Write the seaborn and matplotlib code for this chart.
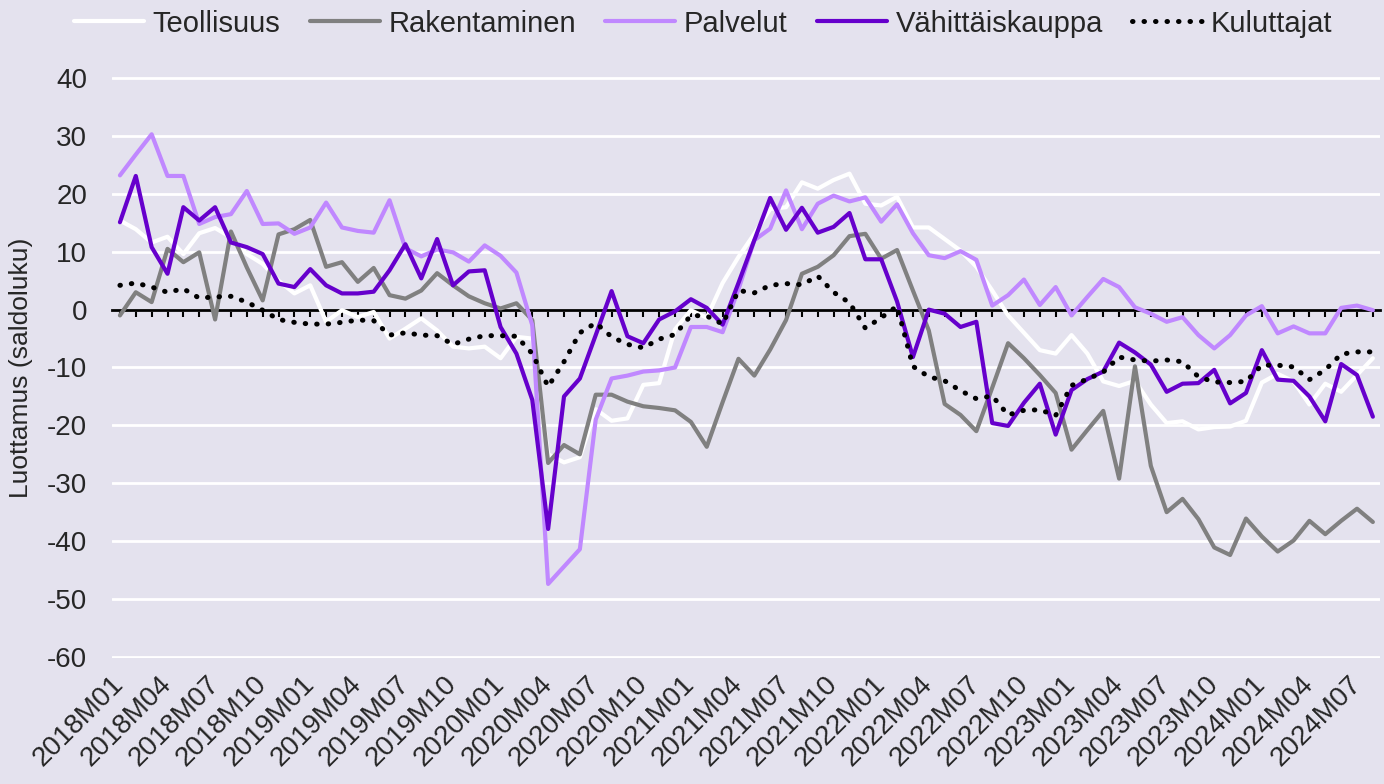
import matplotlib
matplotlib.use("Agg")
import matplotlib.pyplot as plt
import seaborn as sns
import pandas as pd
from matplotlib import font_manager

# monthly periods 2018M01 .. 2024M08
months = [f"{y}M{m:02d}" for y in range(2018, 2025) for m in range(1, 13)][:80]

teollisuus = [15.4, 13.9, 11.6, 12.6, 9.6, 13.2, 14.1, 12.5, 9.6, 7.9,
              5.0, 2.8, 4.2, -2.1, -0.1, -1.3, -0.4, -5.0, -3.3, -1.5,
              -3.6, -6.4, -6.7, -6.4, -8.4, -4.7, -5.0, -25.0, -26.4, -25.5,
              -17.2, -19.2, -18.8, -13.0, -12.7, -3.4, -0.1, -1.4, 4.6, 9.1,
              13.1, 17.4, 17.7, 22.0, 20.9, 22.4, 23.5, 18.3, 18.0, 19.5,
              14.2, 14.2, 12.2, 10.2, 7.4, 3.3, -1.0, -4.0, -7.0, -7.6,
              -4.4, -7.6, -12.4, -13.2, -12.3, -16.4, -19.6, -19.3, -20.7, -20.3,
              -20.2, -19.2, -12.6, -11.1, -12.4, -16.4, -12.8, -14.2, -11.3, -8.4]

rakentaminen = [-1.0, 3.0, 1.3, 10.5, 8.2, 9.9, -1.7, 13.5, 7.3, 1.6,
                13.0, 13.9, 15.5, 7.4, 8.2, 4.8, 7.2, 2.5, 1.9, 3.3,
                6.3, 4.2, 2.3, 1.1, 0.2, 1.1, -1.8, -26.5, -23.4, -25.0,
                -14.7, -14.7, -15.9, -16.7, -17.0, -17.4, -19.4, -23.7, -16.0, -8.5,
                -11.4, -6.9, -1.8, 6.2, 7.4, 9.4, 12.7, 13.1, 8.8, 10.3,
                3.3, -3.6, -16.3, -18.2, -21.0, -13.5, -5.8, -8.4, -11.3, -14.4,
                -24.2, -20.8, -17.5, -29.2, -9.8, -27.0, -35.0, -32.7, -36.2, -41.1,
                -42.4, -36.1, -39.2, -41.8, -39.9, -36.5, -38.8, -36.5, -34.4, -36.7]

palvelut = [23.2, 26.8, 30.3, 23.1, 23.1, 14.8, 16.0, 16.5, 20.5, 14.8,
            14.9, 13.1, 14.2, 18.5, 14.2, 13.6, 13.3, 18.9, 10.6, 9.2,
            10.4, 9.9, 8.3, 11.1, 9.3, 6.4, -2.7, -47.4, -44.4, -41.4,
            -19.0, -11.9, -11.4, -10.7, -10.5, -10.0, -3.0, -3.0, -3.9, 3.5,
            12.0, 14.0, 20.6, 13.9, 18.3, 19.7, 18.7, 19.4, 15.2, 18.2,
            13.2, 9.4, 8.9, 10.1, 8.6, 0.7, 2.5, 5.2, 0.8, 3.9,
            -1.0, 2.2, 5.3, 3.9, 0.4, -0.7, -2.1, -1.3, -4.4, -6.7,
            -4.4, -1.0, 0.6, -4.1, -2.9, -4.1, -4.1, 0.3, 0.7, -0.1]

vahittaiskauppa = [15.1, 23.1, 10.8, 6.2, 17.7, 15.4, 17.7, 11.6, 10.8, 9.6,
                   4.5, 3.9, 7.0, 4.2, 2.8, 2.8, 3.1, 6.8, 11.3, 5.4,
                   12.2, 4.2, 6.6, 6.8, -3.0, -7.6, -15.6, -37.9, -15.0, -11.9,
                   -4.4, 3.2, -4.6, -5.8, -1.7, -0.3, 1.8, 0.3, -2.6, 4.6,
                   12.0, 19.3, 13.8, 17.6, 13.3, 14.3, 16.7, 8.7, 8.7, 1.4,
                   -8.2, 0.0, -0.7, -3.0, -2.1, -19.6, -20.1, -16.1, -12.8, -21.6,
                   -13.9, -12.0, -10.7, -5.7, -7.4, -9.5, -14.2, -12.8, -12.7, -10.4,
                   -16.2, -14.4, -7.0, -12.1, -12.3, -15.0, -19.3, -9.4, -11.3, -18.5]

kuluttajat = [4.2, 4.6, 3.9, 3.0, 3.6, 2.0, 2.2, 2.3, 1.3, -0.1,
              -1.7, -2.2, -2.5, -2.5, -2.2, -1.8, -1.9, -4.4, -4.0, -4.4,
              -4.5, -6.0, -5.1, -4.5, -4.5, -4.6, -7.6, -13.3, -9.0, -4.0,
              -2.3, -4.7, -6.0, -6.6, -5.1, -4.3, -1.0, -1.1, -2.5, 3.3,
              2.9, 4.2, 4.5, 4.3, 5.8, 3.0, 1.2, -3.2, -1.4, 0.6,
              -9.8, -11.6, -12.3, -14.0, -15.4, -14.9, -18.2, -17.4, -17.3, -18.3,
              -13.1, -12.0, -10.8, -8.2, -8.7, -8.9, -8.7, -9.0, -11.6, -12.5,
              -12.6, -12.4, -9.6, -9.6, -9.9, -12.1, -10.4, -7.7, -7.3, -7.3]

df = pd.DataFrame({
    "Teollisuus": teollisuus,
    "Rakentaminen": rakentaminen,
    "Palvelut": palvelut,
    "Vähittäiskauppa": vahittaiskauppa,
    "Kuluttajat": kuluttajat,
})
df["pos"] = range(len(months))

bg = "#E4E2EE"
sns.set_theme(style="white", rc={"axes.facecolor": bg, "figure.facecolor": bg})
names = {f.name for f in font_manager.fontManager.ttflist}
font = "Liberation Sans Narrow" if "Liberation Sans Narrow" in names else "Liberation Sans"
plt.rcParams["font.family"] = [font, "DejaVu Sans"]
plt.rcParams["axes.unicode_minus"] = False

fig = plt.figure(figsize=(13.84, 7.84), dpi=100)
ax = fig.add_axes([112 / 1384, 1 - 658 / 784, (1380 - 112) / 1384, (658 - 77) / 784])

styles = [
    ("Teollisuus", "white", "-"),
    ("Rakentaminen", "#808080", "-"),
    ("Palvelut", "#C088FF", "-"),
    ("Vähittäiskauppa", "#6600CC", "-"),
    ("Kuluttajat", "black", (0, (0.1, 2.2))),
]
for name, color, ls in styles:
    if name == "Kuluttajat":
        sns.lineplot(data=df, x="pos", y=name, color=color, linestyle=ls, lw=3.6,
                     dash_capstyle="round", ax=ax, label=name)
    else:
        sns.lineplot(data=df, x="pos", y=name, color=color, linestyle=ls, lw=3.0,
                     ax=ax, label=name)

ax.get_legend().remove()
handles, labels = ax.get_legend_handles_labels()
fig.legend(handles, labels, loc="center", bbox_to_anchor=(0.508, 0.970), ncol=5,
           frameon=False, fontsize=21, handlelength=2.4, handletextpad=0.3,
           columnspacing=1.0)

ax.set_xlim(-0.5, 79.45)
ax.set_ylim(-60.2, 40.2)
ax.set_yticks(range(-60, 41, 10))
ax.yaxis.grid(True, color="white", lw=2)
ax.xaxis.grid(False)
ax.set_axisbelow(True)
for s in ["top", "right", "left"]:
    ax.spines[s].set_visible(False)
ax.spines["bottom"].set_position(("data", 0))
ax.spines["bottom"].set_color("black")
ax.spines["bottom"].set_linewidth(2)
ax.spines["bottom"].set_zorder(1.5)

ax.set_xticks(df["pos"])
ax.tick_params(axis="x", which="both", direction="out", length=5, width=1.5,
               color="black", bottom=True, labelbottom=False)
ax.tick_params(axis="y", length=0, pad=18, labelsize=20)
ax.set_xlabel("")
ax.set_ylabel("Luottamus (saldoluku)", fontsize=19)
ax.yaxis.set_label_coords(-0.062, 0.5)

sec = ax.secondary_xaxis("bottom")
sec.set_xticks(df["pos"][::3], labels=months[::3], rotation=45, ha="right",
               va="center", rotation_mode="anchor", fontsize=20)
sec.tick_params(length=0, pad=16)
sec.spines["bottom"].set_visible(False)

fig.savefig("out.png", dpi=100, facecolor=bg)
